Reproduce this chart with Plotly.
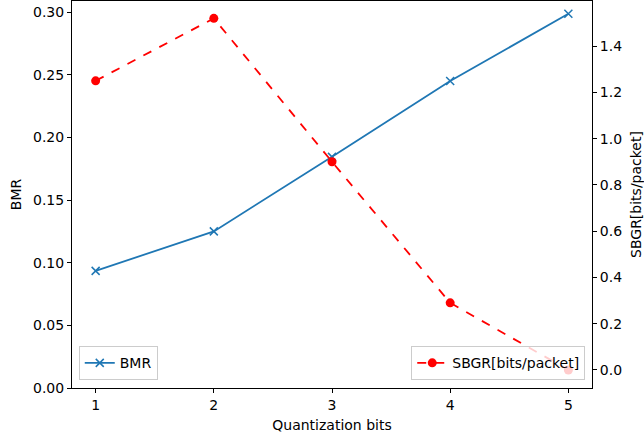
import plotly.graph_objects as go

bits = [1, 2, 3, 4, 5]
bmr = [0.0935, 0.125, 0.1845, 0.245, 0.2987]
sbgr = [1.25, 1.52, 0.90, 0.29, 0.0]

FONT = "DejaVu Sans"
fig = go.Figure()
fig.add_trace(go.Scatter(x=bits, y=bmr, mode="lines+markers", name="BMR",
                         line=dict(color="#1f77b4", width=1.8),
                         marker=dict(symbol="x-thin", size=8, line=dict(color="#1f77b4", width=1.5)),
                         legend="legend", showlegend=True))
fig.add_trace(go.Scatter(x=bits, y=sbgr, mode="lines+markers", name="SBGR[bits/packet]",
                         line=dict(color="red", width=1.8, dash="dash"),
                         marker=dict(symbol="circle", size=9, color="red"),
                         yaxis="y2", legend="legend2", showlegend=True))

axis_common = dict(showline=True, linecolor="black", linewidth=1, ticks="outside",
                   ticklen=4, tickcolor="black", showgrid=False, zeroline=False,
                   automargin=False,
                   tickfont=dict(family=FONT, size=14, color="black"))

fig.update_layout(
    width=644, height=437,
    margin=dict(l=72, r=52, t=1, b=49),
    showlegend=True,
    paper_bgcolor="white", plot_bgcolor="white",
    font=dict(family=FONT, size=14, color="black"),
    xaxis=dict(range=[0.8, 5.2], tickvals=bits, mirror=True,
               title=dict(text="Quantization bits", font=dict(family=FONT, size=14), standoff=8),
               **axis_common),
    yaxis=dict(range=[0, 0.3089], tickvals=[0, 0.05, 0.1, 0.15, 0.2, 0.25, 0.3],
               tickformat=".2f",
               title=dict(text="BMR", font=dict(family=FONT, size=14), standoff=8),
               **axis_common),
    yaxis2=dict(range=[-0.078, 1.595], overlaying="y", side="right",
                tickvals=[0, 0.2, 0.4, 0.6, 0.8, 1.0, 1.2, 1.4], tickformat=".1f",
                title=dict(text="SBGR[bits/packet]", font=dict(family=FONT, size=14), standoff=10),
                **axis_common),
    legend=dict(x=0.013, y=0.02, xanchor="left", yanchor="bottom",
                bgcolor="rgba(255,255,255,0.8)", bordercolor="#cccccc", borderwidth=1,
                font=dict(family=FONT, size=14)),
    legend2=dict(x=0.987, y=0.02, xanchor="right", yanchor="bottom",
                 bgcolor="rgba(255,255,255,0.8)", bordercolor="#cccccc", borderwidth=1,
                 font=dict(family=FONT, size=14)),
)

fig.write_html("out.html", config={"displayModeBar": False},
               post_script="document.body.style.margin='0';document.body.style.overflow='hidden';")
